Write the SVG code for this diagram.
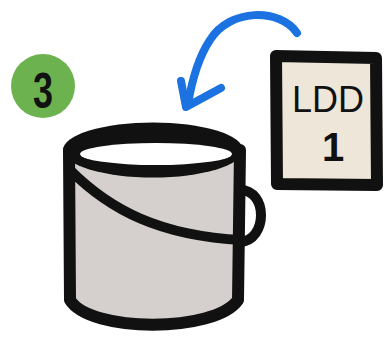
<svg xmlns="http://www.w3.org/2000/svg" width="386" height="338" viewBox="0 0 386 338">
  <style>
    .ink { stroke: #111; stroke-linecap: round; stroke-linejoin: round; }
    .flow { stroke: #1b72e0; fill: none; stroke-width: 8; stroke-linecap: round; stroke-linejoin: round; }
    .label { font-family: "Liberation Sans", Arial, sans-serif; fill: #111; }
  </style>
  <rect width="386" height="338" fill="#ffffff"/>

  <!-- step badge -->
  <g id="step-badge">
    <circle cx="43" cy="86" r="32" fill="#6cb34f"/>
    <text class="label" x="0" y="0" font-size="50" font-weight="bold" text-anchor="middle" transform="translate(43 108) scale(0.72 1)">3</text>
  </g>

  <!-- bucket -->
  <g id="bucket">
    <path class="ink" d="M 69 150 L 70 300 C 90 333 215 333 238 300 L 240 150 Z" fill="#d5d0cd" stroke-width="12"/>
    <path class="ink" d="M 240 190 C 268 190 268 240 240 242" fill="none" stroke-width="10"/>
    <ellipse cx="153" cy="150" rx="90" ry="27.5" fill="#111"/>
    <ellipse cx="156" cy="154" rx="76" ry="11" fill="#ffffff"/>
    <path class="ink" d="M 70 170 C 110 210 160 236 242 240" fill="none" stroke-width="10"/>
  </g>

  <!-- LDD card -->
  <g id="ldd-card">
    <path class="ink" d="M 276 56 L 376 58 L 377 185 L 277 184 Z" fill="#ede6d9" stroke-width="12"/>
    <text class="label" x="328" y="112" font-size="36" text-anchor="middle">LDD</text>
    <text class="label" x="333" y="161" font-size="40" font-weight="bold" text-anchor="middle">1</text>
  </g>

  <!-- connectors -->
  <g id="connectors">
    <path class="flow" d="M 297 33 C 280 8 230 8 210 40 C 198 58 192 80 188 104"/>
    <path class="flow" d="M 181 81 L 186 107 L 221 88"/>
  </g>
</svg>
